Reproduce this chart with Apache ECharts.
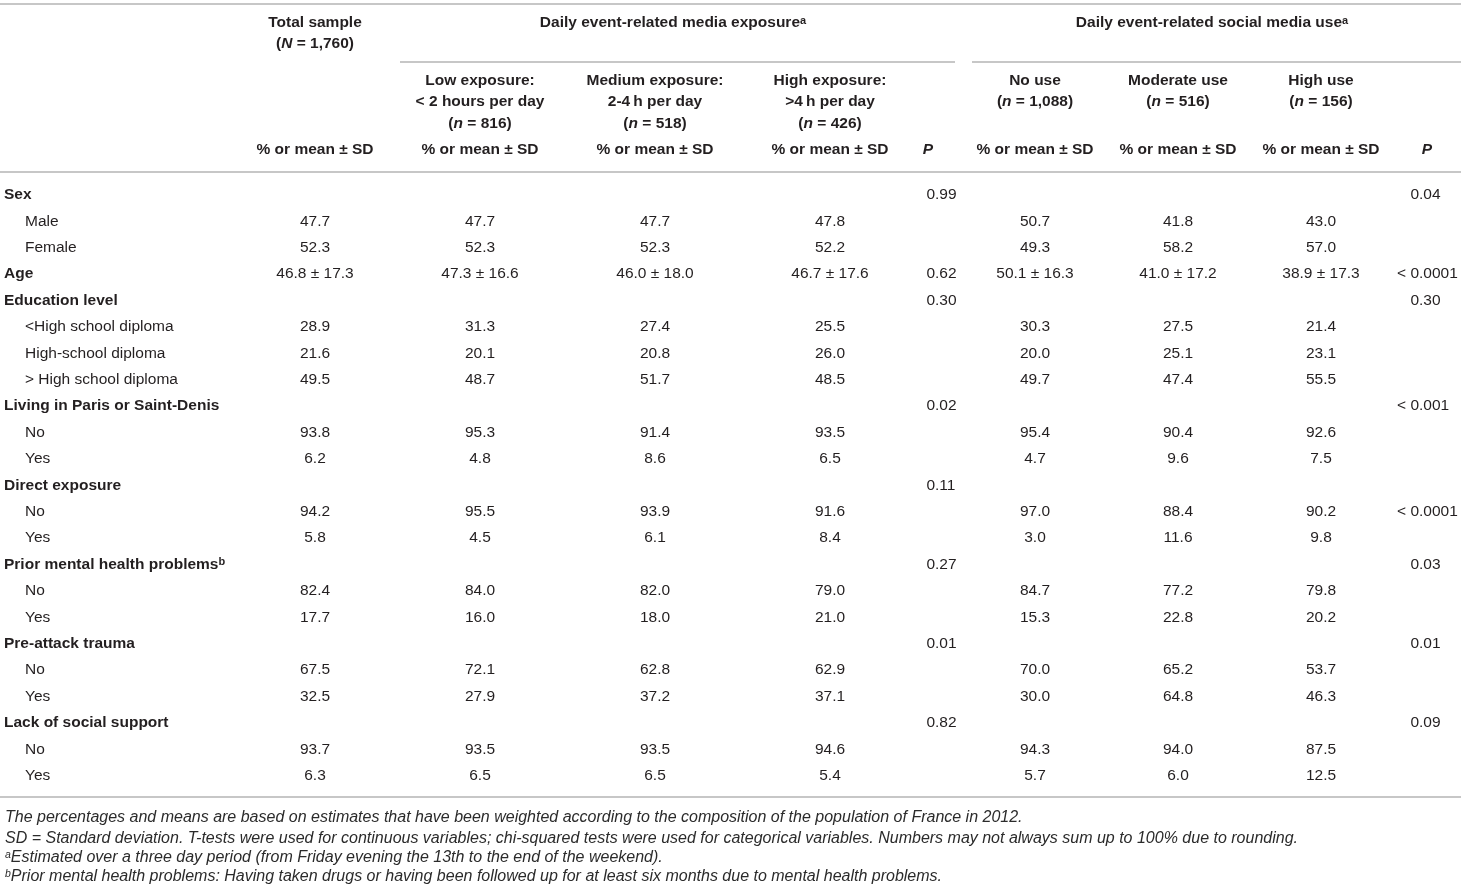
<!DOCTYPE html>
<html>
<head>
<meta charset="utf-8">
<script src="https://cdn.jsdelivr.net/npm/echarts@6/dist/echarts.min.js"></script>
<style>
html, body { margin: 0; padding: 0; background: #fff; }
#main { width: 1461px; height: 886px; }
</style>
</head>
<body>
<div id="main"></div>
<script>
// row categories of the table
var rowLabels = ['Sex', 'Male', 'Female', 'Age', 'Education level', '<High school diploma', 'High-school diploma',
    '> High school diploma', 'Living in Paris or Saint-Denis', 'No', 'Yes', 'Direct exposure', 'No', 'Yes',
    'Prior mental health problems', 'No', 'Yes', 'Pre-attack trauma', 'No', 'Yes', 'Lack of social support', 'No', 'Yes'];
var rowIsGroup = [1, 0, 0, 1, 1, 0, 0, 0, 1, 0, 0, 1, 0, 0, 1, 0, 0, 1, 0, 0, 1, 0, 0];
var rowNote = {14: 'b'};

// column values
var totalSample = ['', '47.7', '52.3', '46.8 ± 17.3', '', '28.9', '21.6', '49.5', '', '93.8', '6.2', '', '94.2', '5.8', '', '82.4', '17.7', '', '67.5', '32.5', '', '93.7', '6.3'];
var lowExposure = ['', '47.7', '52.3', '47.3 ± 16.6', '', '31.3', '20.1', '48.7', '', '95.3', '4.8', '', '95.5', '4.5', '', '84.0', '16.0', '', '72.1', '27.9', '', '93.5', '6.5'];
var mediumExposure = ['', '47.7', '52.3', '46.0 ± 18.0', '', '27.4', '20.8', '51.7', '', '91.4', '8.6', '', '93.9', '6.1', '', '82.0', '18.0', '', '62.8', '37.2', '', '93.5', '6.5'];
var highExposure = ['', '47.8', '52.2', '46.7 ± 17.6', '', '25.5', '26.0', '48.5', '', '93.5', '6.5', '', '91.6', '8.4', '', '79.0', '21.0', '', '62.9', '37.1', '', '94.6', '5.4'];
var pExposure = ['0.99', '', '', '0.62', '0.30', '', '', '', '0.02', '', '', '0.11', '', '', '0.27', '', '', '0.01', '', '', '0.82', '', ''];
var noUse = ['', '50.7', '49.3', '50.1 ± 16.3', '', '30.3', '20.0', '49.7', '', '95.4', '4.7', '', '97.0', '3.0', '', '84.7', '15.3', '', '70.0', '30.0', '', '94.3', '5.7'];
var moderateUse = ['', '41.8', '58.2', '41.0 ± 17.2', '', '27.5', '25.1', '47.4', '', '90.4', '9.6', '', '88.4', '11.6', '', '77.2', '22.8', '', '65.2', '64.8', '', '94.0', '6.0'];
var highUse = ['', '43.0', '57.0', '38.9 ± 17.3', '', '21.4', '23.1', '55.5', '', '92.6', '7.5', '', '90.2', '9.8', '', '79.8', '20.2', '', '53.7', '46.3', '', '87.5', '12.5'];
var pSocial = ['0.04', '', '', '< 0.0001', '0.30', '', '', '', '< 0.001', '', '', '', '< 0.0001', '', '0.03', '', '', '0.01', '', '', '0.09', '', ''];

// header texts
var groupTitles = ['Daily event-related media exposure', 'Daily event-related social media use'];
var columnTitles = [
    ['Total sample', '({i|N} = 1,760)'],
    ['Low exposure:', '< 2 hours per day', '({i|n} = 816)'],
    ['Medium exposure:', '2-4\u2009h per day', '({i|n} = 518)'],
    ['High exposure:', '>4\u2009h per day', '({i|n} = 426)'],
    ['No use', '({i|n} = 1,088)'],
    ['Moderate use', '({i|n} = 516)'],
    ['High use', '({i|n} = 156)']
];
var statLabel = '% or mean ± SD';
var footnotes = [
    'The percentages and means are based on estimates that have been weighted according to the composition of the population of France in 2012.',
    'SD = Standard deviation. T-tests were used for continuous variables; chi-squared tests were used for categorical variables. Numbers may not always sum up to 100% due to rounding.',
    '{s|a}Estimated over a three day period (from Friday evening the 13th to the end of the weekend).',
    '{s|b}Prior mental health problems: Having taken drugs or having been followed up for at least six months due to mental health problems.'
];

// layout
var FAM = '"Liberation Sans", Arial, sans-serif';
var INK = '#231f20';
var RULE = '#b5b5b5';
var valueCols = [totalSample, lowExposure, mediumExposure, highExposure, noUse, moderateUse, highUse];
var valueX = [315, 480, 655, 830, 1035, 1178, 1321];
var pCols = [pExposure, pSocial];
var pX = [935, 1419];

var cells = [];
valueCols.forEach(function (col, c) {
    col.forEach(function (t, r) {
        if (t) cells.push({value: [valueX[c], r], text: t, dec: false});
    });
});
pCols.forEach(function (col, c) {
    col.forEach(function (t, r) {
        if (t) cells.push({value: [pX[c], r], text: t, dec: true});
    });
});

function txt(text, x, y, font, extra) {
    var st = {text: text, x: x, y: y, font: font, fill: INK, align: 'center', verticalAlign: 'middle'};
    for (var k in extra) st[k] = extra[k];
    return {type: 'text', silent: true, style: st};
}

var BOLD = 'bold 15.5px ' + FAM;
var NORM = '15.5px ' + FAM;
var richHead = {
    i: {font: 'italic bold 15.5px ' + FAM},
    s: {font: 'bold 11px ' + FAM, verticalAlign: 'top'}
};
var graphics = [];
// rules
[[0, 4, 1461, 4], [400, 62, 955, 62], [972, 62, 1461, 62], [0, 172, 1461, 172], [0, 797, 1461, 797]].forEach(function (l) {
    graphics.push({type: 'line', silent: true, shape: {x1: l[0], y1: l[1], x2: l[2], y2: l[3]},
        style: {stroke: RULE, lineWidth: 1.5}});
});
// header texts
graphics.push(txt(columnTitles[0][0], valueX[0], 23, BOLD));
graphics.push(txt(columnTitles[0][1], valueX[0], 44, BOLD, {rich: richHead}));
graphics.push(txt(groupTitles[0] + '{s|a}', 673, 23, BOLD, {rich: richHead}));
graphics.push(txt(groupTitles[1] + '{s|a}', 1212, 23, BOLD, {rich: richHead}));
var subY = [81, 102, 124];
for (var c = 1; c < columnTitles.length; c++) {
    columnTitles[c].forEach(function (line, j) {
        graphics.push(txt(line, valueX[c], subY[j], BOLD, {rich: richHead}));
    });
}
valueX.forEach(function (x) {
    graphics.push(txt(statLabel, x, 150, BOLD));
});
graphics.push(txt('P', 928, 150, 'italic bold 15.5px ' + FAM));
graphics.push(txt('P', 1427, 150, 'italic bold 15.5px ' + FAM));
// footnotes
var footY = [818, 839, 858, 877];
footnotes.forEach(function (f, i) {
    graphics.push(txt(f, 5, footY[i], 'italic 16px ' + FAM, {
        align: 'left', fill: '#2b2b2b',
        rich: {s: {font: 'italic 10.5px ' + FAM, verticalAlign: 'top'}}
    }));
});

var myChart = echarts.init(document.getElementById('main'));
var option = {
    backgroundColor: '#fff',
    animation: false,
    grid: {left: 0, right: 0, top: 181.8, bottom: 97, outerBoundsMode: 'none'},
    xAxis: {type: 'value', min: 0, max: 1461, show: false},
    yAxis: {
        type: 'category',
        inverse: true,
        data: rowLabels,
        axisLine: {show: false},
        axisTick: {show: false},
        splitLine: {show: false},
        axisLabel: {
            inside: true,
            interval: 0,
            margin: 4,
            align: 'left',
            color: INK,
            formatter: function (val, idx) {
                if (rowIsGroup[idx]) {
                    return '{h|' + val + '}' + (rowNote[idx] ? '{s|' + rowNote[idx] + '}' : '');
                }
                return '{n|' + val + '}';
            },
            rich: {
                h: {fontFamily: FAM, fontSize: 15.5, fontWeight: 'bold', color: INK},
                n: {fontFamily: FAM, fontSize: 15.5, color: INK, padding: [0, 0, 0, 21]},
                s: {fontFamily: FAM, fontSize: 11, fontWeight: 'bold', color: INK, verticalAlign: 'top'}
            }
        }
    },
    graphic: graphics,
    series: [{
        type: 'custom',
        clip: false,
        silent: true,
        data: cells,
        renderItem: function (params, api) {
            var item = cells[params.dataIndex];
            var pt = api.coord([api.value(0), api.value(1)]);
            if (item.dec) {
                var i = item.text.indexOf('.');
                return {
                    type: 'group',
                    children: [
                        {type: 'text', style: {text: item.text.slice(0, i), x: pt[0], y: pt[1], font: NORM, fill: INK, align: 'right', verticalAlign: 'middle'}},
                        {type: 'text', style: {text: item.text.slice(i), x: pt[0], y: pt[1], font: NORM, fill: INK, align: 'left', verticalAlign: 'middle'}}
                    ]
                };
            }
            return {type: 'text', style: {text: item.text, x: pt[0], y: pt[1], font: NORM, fill: INK, align: 'center', verticalAlign: 'middle'}};
        }
    }]
};
myChart.setOption(option);
</script>
</body>
</html>
